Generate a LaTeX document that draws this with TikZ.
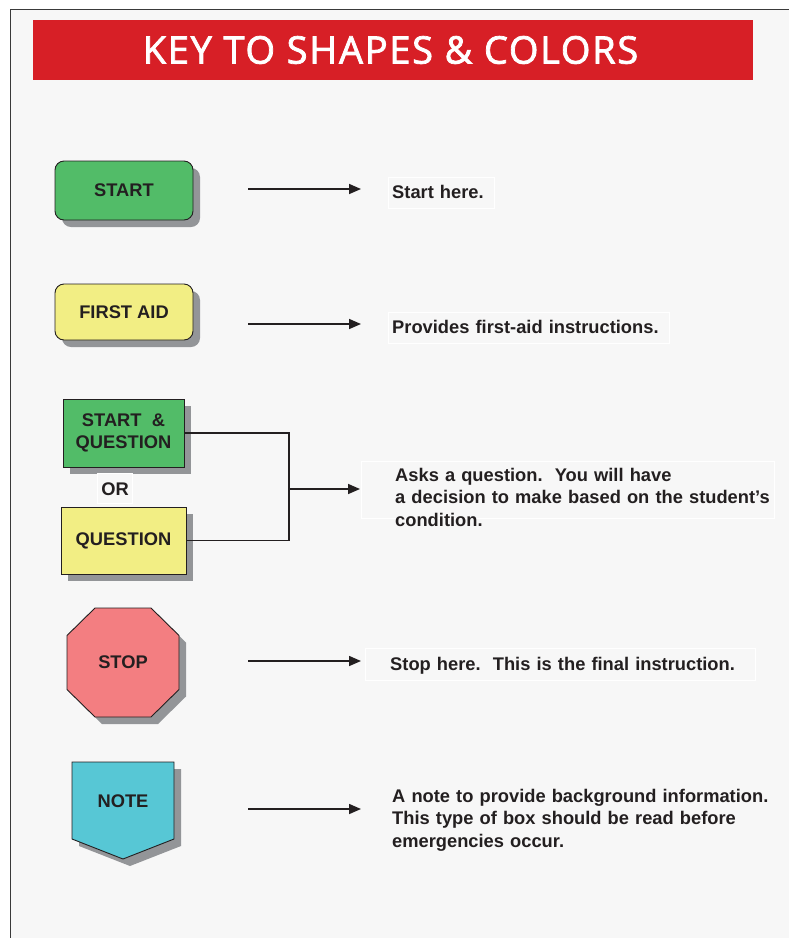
\documentclass[tikz,border=0pt]{standalone}
\usepackage{fontspec}
\setmainfont{Liberation Sans}
\newfontfamily\titlefont[FakeBold=2,LetterSpace=4.5]{Open Sans}
\usetikzlibrary{arrows.meta,shadows}
\definecolor{bg}{HTML}{F7F7F7}
\definecolor{framec}{HTML}{3A3A3A}
\definecolor{kred}{HTML}{D71F26}
\definecolor{kgreen}{HTML}{52BC68}
\definecolor{kyellow}{HTML}{F2EE84}
\definecolor{kpink}{HTML}{F37E81}
\definecolor{kcyan}{HTML}{57C7D5}
\definecolor{shgray}{HTML}{939598}
\definecolor{ink}{HTML}{231F20}
\tikzset{
  lbl/.style={text=ink, font=\bfseries\fontsize{18.3pt}{22pt}\selectfont, align=center, inner sep=0pt},
  keybox/.style={lbl, draw=ink, line width=0.9pt,
    drop shadow={shadow xshift=7pt, shadow yshift=-7pt, fill=shgray, opacity=1}},
  desc/.style={text=ink, font=\bfseries\fontsize{18.3pt}{22.5pt}\selectfont, inner sep=0pt,
    anchor=base west, text width=400pt, align=left},
  faint/.style={draw=white, line width=0.8pt},
  arr/.style={draw=ink, line width=1.6pt, -{Triangle[length=12pt,width=10pt]}},
  conn/.style={draw=ink, line width=1.8pt},
  shapeline/.style={draw=ink, line width=0.9pt}
}
\begin{document}
\begin{tikzpicture}[x=1pt,y=-1pt]
\useasboundingbox (0,0) rectangle (788,938);
\fill[white] (0,0) rectangle (788,938);
\draw[fill=bg, draw=framec, line width=1.8pt] (10.5,9.5) rectangle (800,950);

% banner
\node[fill=kred, minimum width=720pt, minimum height=60pt, anchor=north west, inner sep=0pt] (banner) at (33,20) {};
\node[text=white, font=\titlefont\fontsize{38pt}{42pt}\selectfont, inner sep=0pt] (title) at (390.5,50) {KEY TO SHAPES \& COLORS};

% START
\node[keybox, rounded corners=9pt, fill=kgreen, minimum width=138pt, minimum height=59pt] (start) at (124,190.5) {START};
\coordinate (s1) at (248,189); \coordinate (e1) at (361,189);
\draw[arr] (s1) -- (e1);
\draw[faint] (388,177) rectangle (494,208);
\node[desc] (d1) at (392,198) {Start here.};

% FIRST AID
\node[keybox, rounded corners=9pt, fill=kyellow, minimum width=138pt, minimum height=56pt] (aid) at (124,312) {FIRST AID};
\coordinate (s2) at (248,324); \coordinate (e2) at (361,324);
\draw[arr] (s2) -- (e2);
\draw[faint] (388,312) rectangle (669,343);
\node[desc] (d2) at (392,333) {Provides first-aid instructions.};

% START & QUESTION / QUESTION
\node[keybox, fill=kgreen, minimum width=121pt, minimum height=68pt] (sq) at (123.5,433) {START\ \ \&\\QUESTION};
\node[keybox, fill=kyellow, minimum width=125pt, minimum height=67pt] (q) at (123.5,540.5) {QUESTION};
\draw[faint] (97,473) rectangle (132,503);
\node[lbl] (or) at (115,489) {OR};
\coordinate (jn) at (289,489); \coordinate (e3) at (360,489);
\draw[conn] (sq.east) -| (jn) |- (q.east);
\draw[arr] (jn) -- (e3);
\draw[faint] (361,461) rectangle (774,518);
\node[desc] (d3) at (395,481) {Asks a question.\ \ You will have\\a decision to make based on the student’s\\condition.};

% STOP
\fill[shgray, shift={(7,7)}] (67,635.5) -- (95,608) -- (151,608) -- (179,635.5) -- (179,689.5) -- (151,717) -- (95,717) -- (67,689.5) -- cycle;
\filldraw[shapeline, fill=kpink] (67,635.5) -- (95,608) -- (151,608) -- (179,635.5) -- (179,689.5) -- (151,717) -- (95,717) -- (67,689.5) -- cycle;
\node[lbl] (stop) at (123,662.5) {STOP};
\coordinate (s4) at (248,661); \coordinate (e4) at (361,661);
\draw[arr] (s4) -- (e4);
\draw[faint] (365,648) rectangle (755,680);
\node[desc] (d4) at (390,670) {Stop here.\ \ This is the final instruction.};

% NOTE
\fill[shgray, shift={(7,7)}] (72,762) -- (174,762) -- (174,839) -- (123,859) -- (72,839) -- cycle;
\filldraw[shapeline, fill=kcyan] (72,762) -- (174,762) -- (174,839) -- (123,859) -- (72,839) -- cycle;
\node[lbl] (note) at (123,801.5) {NOTE};
\coordinate (s5) at (248,809); \coordinate (e5) at (361,809);
\draw[arr] (s5) -- (e5);
\node[desc] (d5) at (392,802) {A note to provide background information.\\This type of box should be read before\\emergencies occur.};
\end{tikzpicture}
\end{document}
